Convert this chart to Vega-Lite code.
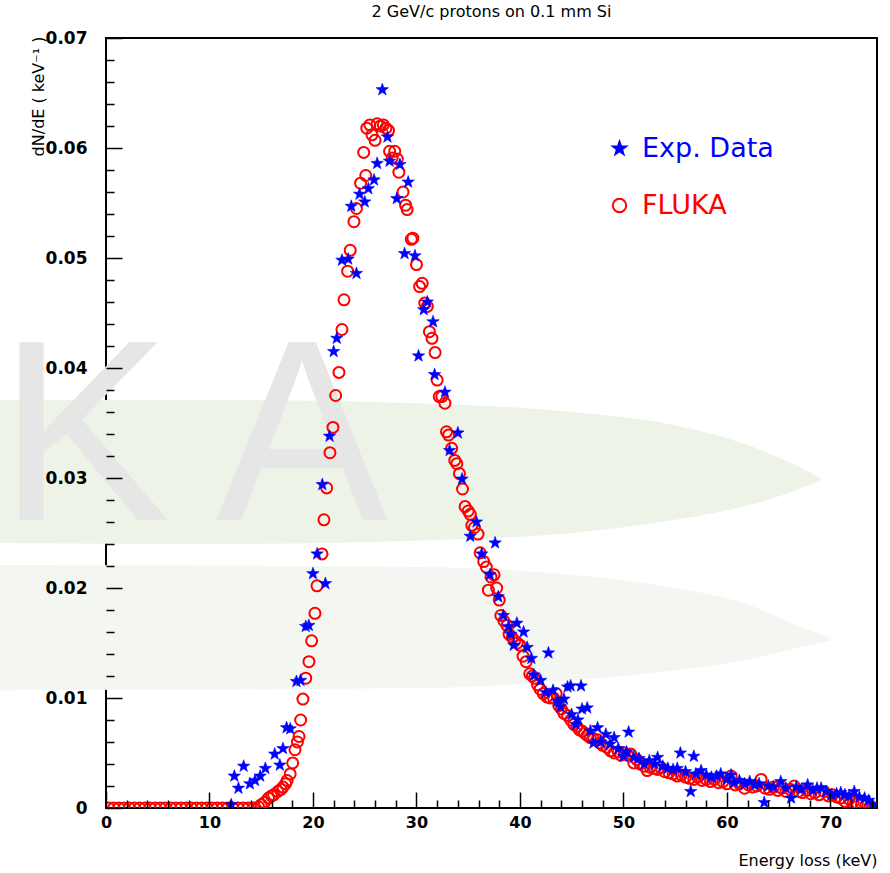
{
  "$schema": "https://vega.github.io/schema/vega-lite/v6.json",
  "width": 771,
  "height": 770,
  "autosize": "none",
  "padding": {"left": 106, "top": 38, "right": 13, "bottom": 65},
  "background": "white",
  "config": {"view": {"stroke": "#000", "strokeWidth": 2}, "font": "DejaVu Sans"},
  "title": {"text": "2 GeV/c protons on 0.1 mm Si", "fontSize": 16, "fontWeight": "normal", "font": "DejaVu Sans", "color": "#000", "anchor": "middle", "offset": 9},
  "resolve": {"axis": {"x": "independent", "y": "independent"}},
  "datasets": {
    "band1": [
      {"x": -10.3, "top": 0.0371, "bot": 0.0241},
      {"x": 10, "top": 0.0371, "bot": 0.024},
      {"x": 30, "top": 0.0368, "bot": 0.0243},
      {"x": 45, "top": 0.036, "bot": 0.025},
      {"x": 55, "top": 0.0348, "bot": 0.0262},
      {"x": 62, "top": 0.033, "bot": 0.0275},
      {"x": 67, "top": 0.031, "bot": 0.029},
      {"x": 69, "top": 0.03, "bot": 0.0298}
    ],
    "band2": [
      {"x": -10.3, "top": 0.0221, "bot": 0.0107},
      {"x": 30, "top": 0.0219, "bot": 0.0109},
      {"x": 45, "top": 0.0212, "bot": 0.0116},
      {"x": 55, "top": 0.02, "bot": 0.0125},
      {"x": 62, "top": 0.0185, "bot": 0.0135},
      {"x": 67, "top": 0.0165, "bot": 0.0146},
      {"x": 70, "top": 0.0155, "bot": 0.0152}
    ],
    "wm": [
      {"x": -10.4, "y": 0.0262, "t": "K"},
      {"x": 10.6, "y": 0.0262, "t": "A"}
    ],
    "fluka": [
      {"e": 0.25, "v": 0, "s": "FLUKA"}, {"e": 0.75, "v": 0, "s": "FLUKA"}, {"e": 1.25, "v": 0, "s": "FLUKA"}, {"e": 1.75, "v": 0, "s": "FLUKA"},
      {"e": 2.25, "v": 0, "s": "FLUKA"}, {"e": 2.75, "v": 0, "s": "FLUKA"}, {"e": 3.25, "v": 0, "s": "FLUKA"}, {"e": 3.75, "v": 0, "s": "FLUKA"},
      {"e": 4.25, "v": 0, "s": "FLUKA"}, {"e": 4.75, "v": 0, "s": "FLUKA"}, {"e": 5.25, "v": 0, "s": "FLUKA"}, {"e": 5.75, "v": 0, "s": "FLUKA"},
      {"e": 6.25, "v": 0, "s": "FLUKA"}, {"e": 6.75, "v": 0, "s": "FLUKA"}, {"e": 7.25, "v": 0, "s": "FLUKA"}, {"e": 7.75, "v": 0, "s": "FLUKA"},
      {"e": 8.25, "v": 0, "s": "FLUKA"}, {"e": 8.75, "v": 0, "s": "FLUKA"}, {"e": 9.25, "v": 0, "s": "FLUKA"}, {"e": 9.75, "v": 0, "s": "FLUKA"},
      {"e": 10.25, "v": 0, "s": "FLUKA"}, {"e": 10.75, "v": 0, "s": "FLUKA"}, {"e": 11.25, "v": 0, "s": "FLUKA"}, {"e": 11.75, "v": 0, "s": "FLUKA"},
      {"e": 12.25, "v": 0, "s": "FLUKA"}, {"e": 12.75, "v": 0, "s": "FLUKA"}, {"e": 13.25, "v": 0, "s": "FLUKA"}, {"e": 13.75, "v": 0, "s": "FLUKA"},
      {"e": 14.25, "v": 0, "s": "FLUKA"}, {"e": 14.75, "v": 0.0001, "s": "FLUKA"},
      {"e": 15.0, "v": 0.0003, "s": "FLUKA"}, {"e": 15.3, "v": 0.0005, "s": "FLUKA"}, {"e": 15.7, "v": 0.0009, "s": "FLUKA"}, {"e": 16.0, "v": 0.0011, "s": "FLUKA"},
      {"e": 16.2, "v": 0.0012, "s": "FLUKA"}, {"e": 16.6, "v": 0.0015, "s": "FLUKA"}, {"e": 16.9, "v": 0.0017, "s": "FLUKA"}, {"e": 17.1, "v": 0.0019, "s": "FLUKA"},
      {"e": 17.35, "v": 0.0022, "s": "FLUKA"}, {"e": 17.5, "v": 0.0025, "s": "FLUKA"}, {"e": 17.8, "v": 0.0031, "s": "FLUKA"}, {"e": 18.04, "v": 0.0041, "s": "FLUKA"},
      {"e": 18.26, "v": 0.0053, "s": "FLUKA"}, {"e": 18.5, "v": 0.006, "s": "FLUKA"}, {"e": 18.65, "v": 0.0065, "s": "FLUKA"}, {"e": 18.81, "v": 0.008, "s": "FLUKA"},
      {"e": 19.03, "v": 0.0099, "s": "FLUKA"}, {"e": 19.3, "v": 0.0118, "s": "FLUKA"}, {"e": 19.61, "v": 0.0133, "s": "FLUKA"}, {"e": 19.87, "v": 0.0152, "s": "FLUKA"},
      {"e": 20.19, "v": 0.0177, "s": "FLUKA"}, {"e": 20.39, "v": 0.0202, "s": "FLUKA"}, {"e": 20.87, "v": 0.0231, "s": "FLUKA"}, {"e": 21.06, "v": 0.0262, "s": "FLUKA"},
      {"e": 21.32, "v": 0.0291, "s": "FLUKA"}, {"e": 21.64, "v": 0.0323, "s": "FLUKA"}, {"e": 21.93, "v": 0.0346, "s": "FLUKA"}, {"e": 22.19, "v": 0.0375, "s": "FLUKA"},
      {"e": 22.51, "v": 0.0396, "s": "FLUKA"}, {"e": 22.8, "v": 0.0435, "s": "FLUKA"}, {"e": 23.0, "v": 0.0462, "s": "FLUKA"}, {"e": 23.35, "v": 0.0488, "s": "FLUKA"},
      {"e": 23.6, "v": 0.0507, "s": "FLUKA"}, {"e": 23.96, "v": 0.0533, "s": "FLUKA"}, {"e": 24.2, "v": 0.0545, "s": "FLUKA"}, {"e": 24.6, "v": 0.0568, "s": "FLUKA"},
      {"e": 24.9, "v": 0.0596, "s": "FLUKA"}, {"e": 25.1, "v": 0.0575, "s": "FLUKA"}, {"e": 25.2, "v": 0.0618, "s": "FLUKA"}, {"e": 25.5, "v": 0.0621, "s": "FLUKA"},
      {"e": 25.7, "v": 0.0612, "s": "FLUKA"}, {"e": 26.0, "v": 0.0607, "s": "FLUKA"}, {"e": 26.2, "v": 0.0622, "s": "FLUKA"}, {"e": 26.5, "v": 0.062, "s": "FLUKA"},
      {"e": 26.8, "v": 0.0621, "s": "FLUKA"}, {"e": 27.05, "v": 0.0618, "s": "FLUKA"}, {"e": 27.3, "v": 0.0616, "s": "FLUKA"}, {"e": 27.4, "v": 0.0597, "s": "FLUKA"},
      {"e": 27.65, "v": 0.0591, "s": "FLUKA"}, {"e": 27.9, "v": 0.0597, "s": "FLUKA"}, {"e": 28.15, "v": 0.059, "s": "FLUKA"}, {"e": 28.3, "v": 0.0578, "s": "FLUKA"},
      {"e": 28.7, "v": 0.056, "s": "FLUKA"}, {"e": 28.95, "v": 0.0548, "s": "FLUKA"}, {"e": 29.1, "v": 0.0544, "s": "FLUKA"}, {"e": 29.5, "v": 0.0517, "s": "FLUKA"},
      {"e": 29.65, "v": 0.0518, "s": "FLUKA"}, {"e": 30.0, "v": 0.0494, "s": "FLUKA"}, {"e": 30.3, "v": 0.0474, "s": "FLUKA"}, {"e": 30.55, "v": 0.0477, "s": "FLUKA"},
      {"e": 30.8, "v": 0.0459, "s": "FLUKA"}, {"e": 31.05, "v": 0.0456, "s": "FLUKA"}, {"e": 31.25, "v": 0.0433, "s": "FLUKA"}, {"e": 31.5, "v": 0.0427, "s": "FLUKA"},
      {"e": 31.8, "v": 0.0414, "s": "FLUKA"}, {"e": 32.0, "v": 0.0389, "s": "FLUKA"}, {"e": 32.2, "v": 0.0374, "s": "FLUKA"}, {"e": 32.45, "v": 0.0374, "s": "FLUKA"},
      {"e": 32.75, "v": 0.0368, "s": "FLUKA"}, {"e": 32.9, "v": 0.0342, "s": "FLUKA"}, {"e": 33.1, "v": 0.0339, "s": "FLUKA"}, {"e": 33.4, "v": 0.0327, "s": "FLUKA"},
      {"e": 33.7, "v": 0.0316, "s": "FLUKA"}, {"e": 33.9, "v": 0.0313, "s": "FLUKA"}, {"e": 34.15, "v": 0.0304, "s": "FLUKA"}, {"e": 34.45, "v": 0.029, "s": "FLUKA"},
      {"e": 34.7, "v": 0.0274, "s": "FLUKA"}, {"e": 35.0, "v": 0.027, "s": "FLUKA"}, {"e": 35.2, "v": 0.0267, "s": "FLUKA"}, {"e": 35.35, "v": 0.0257, "s": "FLUKA"},
      {"e": 35.6, "v": 0.0255, "s": "FLUKA"}, {"e": 35.95, "v": 0.0249, "s": "FLUKA"}, {"e": 36.15, "v": 0.0232, "s": "FLUKA"}, {"e": 36.5, "v": 0.0224, "s": "FLUKA"},
      {"e": 36.75, "v": 0.0219, "s": "FLUKA"}, {"e": 36.95, "v": 0.0198, "s": "FLUKA"}, {"e": 37.2, "v": 0.021, "s": "FLUKA"}, {"e": 37.5, "v": 0.0212, "s": "FLUKA"},
      {"e": 37.75, "v": 0.02, "s": "FLUKA"}, {"e": 38.0, "v": 0.0189, "s": "FLUKA"}, {"e": 38.15, "v": 0.0175, "s": "FLUKA"}, {"e": 38.45, "v": 0.017, "s": "FLUKA"},
      {"e": 38.75, "v": 0.0166, "s": "FLUKA"}, {"e": 38.95, "v": 0.0158, "s": "FLUKA"}, {"e": 39.25, "v": 0.0155, "s": "FLUKA"}, {"e": 39.5, "v": 0.0152, "s": "FLUKA"},
      {"e": 39.75, "v": 0.015, "s": "FLUKA"}, {"e": 40.0, "v": 0.0148, "s": "FLUKA"}, {"e": 40.3, "v": 0.0138, "s": "FLUKA"}, {"e": 40.6, "v": 0.0133, "s": "FLUKA"},
      {"e": 40.95, "v": 0.0122, "s": "FLUKA"}, {"e": 41.2, "v": 0.012, "s": "FLUKA"}, {"e": 41.4, "v": 0.0118, "s": "FLUKA"}, {"e": 41.7, "v": 0.0112, "s": "FLUKA"},
      {"e": 41.95, "v": 0.0108, "s": "FLUKA"}, {"e": 42.25, "v": 0.0104, "s": "FLUKA"}, {"e": 42.6, "v": 0.0101, "s": "FLUKA"}, {"e": 42.9, "v": 0.01, "s": "FLUKA"},
      {"e": 43.25, "v": 0.01, "s": "FLUKA"}, {"e": 43.5, "v": 0.0104, "s": "FLUKA"}, {"e": 43.75, "v": 0.0093, "s": "FLUKA"}, {"e": 44.0, "v": 0.009, "s": "FLUKA"},
      {"e": 44.25, "v": 0.0086, "s": "FLUKA"}, {"e": 44.6, "v": 0.0084, "s": "FLUKA"}, {"e": 44.9, "v": 0.008, "s": "FLUKA"}, {"e": 45.2, "v": 0.0076, "s": "FLUKA"},
      {"e": 45.5, "v": 0.0074, "s": "FLUKA"}, {"e": 45.75, "v": 0.0071, "s": "FLUKA"}, {"e": 46.0, "v": 0.007, "s": "FLUKA"}, {"e": 46.25, "v": 0.0068, "s": "FLUKA"},
      {"e": 46.5, "v": 0.0066, "s": "FLUKA"}, {"e": 46.8, "v": 0.0064, "s": "FLUKA"}, {"e": 47.1, "v": 0.0063, "s": "FLUKA"}, {"e": 47.5, "v": 0.0062, "s": "FLUKA"},
      {"e": 47.75, "v": 0.0059, "s": "FLUKA"}, {"e": 48.0, "v": 0.0057, "s": "FLUKA"}, {"e": 48.4, "v": 0.0055, "s": "FLUKA"}, {"e": 48.75, "v": 0.0052, "s": "FLUKA"},
      {"e": 49.1, "v": 0.005, "s": "FLUKA"}, {"e": 49.5, "v": 0.0051, "s": "FLUKA"}, {"e": 49.75, "v": 0.0048, "s": "FLUKA"}, {"e": 50.1, "v": 0.005, "s": "FLUKA"},
      {"e": 50.4, "v": 0.0048, "s": "FLUKA"}, {"e": 50.7, "v": 0.0049, "s": "FLUKA"}, {"e": 51.0, "v": 0.0041, "s": "FLUKA"}, {"e": 51.3, "v": 0.0044, "s": "FLUKA"},
      {"e": 51.6, "v": 0.004, "s": "FLUKA"}, {"e": 52.0, "v": 0.0038, "s": "FLUKA"}, {"e": 52.3, "v": 0.0034, "s": "FLUKA"}, {"e": 52.6, "v": 0.0037, "s": "FLUKA"},
      {"e": 53.0, "v": 0.0036, "s": "FLUKA"}, {"e": 53.3, "v": 0.0035, "s": "FLUKA"}, {"e": 53.6, "v": 0.0037, "s": "FLUKA"}, {"e": 54.0, "v": 0.0033, "s": "FLUKA"},
      {"e": 54.4, "v": 0.0032, "s": "FLUKA"}, {"e": 54.8, "v": 0.0031, "s": "FLUKA"}, {"e": 55.2, "v": 0.0029, "s": "FLUKA"}, {"e": 55.6, "v": 0.003, "s": "FLUKA"},
      {"e": 56.0, "v": 0.0028, "s": "FLUKA"}, {"e": 56.4, "v": 0.0027, "s": "FLUKA"}, {"e": 56.8, "v": 0.0026, "s": "FLUKA"}, {"e": 57.2, "v": 0.0028, "s": "FLUKA"},
      {"e": 57.6, "v": 0.0025, "s": "FLUKA"}, {"e": 58.0, "v": 0.0026, "s": "FLUKA"}, {"e": 58.4, "v": 0.0024, "s": "FLUKA"}, {"e": 58.8, "v": 0.0026, "s": "FLUKA"},
      {"e": 59.2, "v": 0.0023, "s": "FLUKA"}, {"e": 59.6, "v": 0.0024, "s": "FLUKA"}, {"e": 60.0, "v": 0.0022, "s": "FLUKA"}, {"e": 60.4, "v": 0.0029, "s": "FLUKA"},
      {"e": 60.8, "v": 0.0021, "s": "FLUKA"}, {"e": 61.2, "v": 0.0022, "s": "FLUKA"}, {"e": 61.7, "v": 0.0018, "s": "FLUKA"}, {"e": 62.1, "v": 0.0021, "s": "FLUKA"},
      {"e": 62.5, "v": 0.0019, "s": "FLUKA"}, {"e": 62.9, "v": 0.002, "s": "FLUKA"}, {"e": 63.3, "v": 0.0026, "s": "FLUKA"}, {"e": 63.7, "v": 0.0018, "s": "FLUKA"},
      {"e": 64.1, "v": 0.0017, "s": "FLUKA"}, {"e": 64.5, "v": 0.0019, "s": "FLUKA"}, {"e": 64.9, "v": 0.0016, "s": "FLUKA"}, {"e": 65.3, "v": 0.0018, "s": "FLUKA"},
      {"e": 65.7, "v": 0.0015, "s": "FLUKA"}, {"e": 66.1, "v": 0.0017, "s": "FLUKA"}, {"e": 66.5, "v": 0.002, "s": "FLUKA"}, {"e": 66.9, "v": 0.0015, "s": "FLUKA"},
      {"e": 67.3, "v": 0.0014, "s": "FLUKA"}, {"e": 67.7, "v": 0.0016, "s": "FLUKA"}, {"e": 68.1, "v": 0.0013, "s": "FLUKA"}, {"e": 68.5, "v": 0.0014, "s": "FLUKA"},
      {"e": 68.9, "v": 0.0012, "s": "FLUKA"}, {"e": 69.4, "v": 0.0015, "s": "FLUKA"}, {"e": 69.8, "v": 0.0011, "s": "FLUKA"}, {"e": 70.2, "v": 0.0012, "s": "FLUKA"},
      {"e": 70.6, "v": 0.001, "s": "FLUKA"}, {"e": 71.0, "v": 0.0009, "s": "FLUKA"}, {"e": 71.4, "v": 0.0006, "s": "FLUKA"}, {"e": 71.8, "v": 0.0008, "s": "FLUKA"},
      {"e": 72.2, "v": 0.0005, "s": "FLUKA"}, {"e": 72.6, "v": 0.0004, "s": "FLUKA"}, {"e": 73.0, "v": 0.0003, "s": "FLUKA"}, {"e": 73.4, "v": 0.0002, "s": "FLUKA"},
      {"e": 73.8, "v": 0.0001, "s": "FLUKA"}, {"e": 74.2, "v": 0, "s": "FLUKA"}
    ],
    "exp": [
      {"e": 12.1, "v": 0.0003, "s": "Exp. Data"}, {"e": 12.4, "v": 0.0029, "s": "Exp. Data"}, {"e": 12.8, "v": 0.0018, "s": "Exp. Data"}, {"e": 13.3, "v": 0.0038, "s": "Exp. Data"},
      {"e": 13.9, "v": 0.0022, "s": "Exp. Data"}, {"e": 14.4, "v": 0.0025, "s": "Exp. Data"}, {"e": 14.9, "v": 0.0029, "s": "Exp. Data"}, {"e": 15.4, "v": 0.0036, "s": "Exp. Data"},
      {"e": 16.3, "v": 0.0049, "s": "Exp. Data"}, {"e": 16.8, "v": 0.0039, "s": "Exp. Data"}, {"e": 17.1, "v": 0.0054, "s": "Exp. Data"}, {"e": 17.45, "v": 0.0073, "s": "Exp. Data"},
      {"e": 17.8, "v": 0.0072, "s": "Exp. Data"}, {"e": 18.4, "v": 0.0115, "s": "Exp. Data"}, {"e": 18.8, "v": 0.0116, "s": "Exp. Data"}, {"e": 19.3, "v": 0.0165, "s": "Exp. Data"},
      {"e": 19.6, "v": 0.0166, "s": "Exp. Data"}, {"e": 20.0, "v": 0.0213, "s": "Exp. Data"}, {"e": 20.4, "v": 0.0231, "s": "Exp. Data"}, {"e": 21.2, "v": 0.0204, "s": "Exp. Data"},
      {"e": 20.9, "v": 0.0294, "s": "Exp. Data"}, {"e": 21.6, "v": 0.0338, "s": "Exp. Data"}, {"e": 22.0, "v": 0.0415, "s": "Exp. Data"}, {"e": 22.3, "v": 0.0427, "s": "Exp. Data"},
      {"e": 22.8, "v": 0.0498, "s": "Exp. Data"}, {"e": 23.4, "v": 0.0499, "s": "Exp. Data"}, {"e": 23.7, "v": 0.0547, "s": "Exp. Data"}, {"e": 24.2, "v": 0.0486, "s": "Exp. Data"},
      {"e": 24.5, "v": 0.0558, "s": "Exp. Data"}, {"e": 25.0, "v": 0.0551, "s": "Exp. Data"}, {"e": 25.35, "v": 0.0563, "s": "Exp. Data"}, {"e": 25.9, "v": 0.0571, "s": "Exp. Data"},
      {"e": 26.2, "v": 0.0586, "s": "Exp. Data"}, {"e": 26.7, "v": 0.0653, "s": "Exp. Data"}, {"e": 27.2, "v": 0.061, "s": "Exp. Data"}, {"e": 27.4, "v": 0.0588, "s": "Exp. Data"},
      {"e": 28.1, "v": 0.0554, "s": "Exp. Data"}, {"e": 28.4, "v": 0.0585, "s": "Exp. Data"}, {"e": 28.85, "v": 0.0504, "s": "Exp. Data"}, {"e": 29.2, "v": 0.0569, "s": "Exp. Data"},
      {"e": 29.85, "v": 0.0502, "s": "Exp. Data"}, {"e": 30.2, "v": 0.0411, "s": "Exp. Data"}, {"e": 30.7, "v": 0.0453, "s": "Exp. Data"}, {"e": 31.05, "v": 0.046, "s": "Exp. Data"},
      {"e": 31.6, "v": 0.0442, "s": "Exp. Data"}, {"e": 31.75, "v": 0.0394, "s": "Exp. Data"}, {"e": 32.75, "v": 0.0378, "s": "Exp. Data"}, {"e": 33.2, "v": 0.0325, "s": "Exp. Data"},
      {"e": 34.0, "v": 0.0341, "s": "Exp. Data"}, {"e": 34.4, "v": 0.0299, "s": "Exp. Data"}, {"e": 35.2, "v": 0.0247, "s": "Exp. Data"}, {"e": 35.8, "v": 0.026, "s": "Exp. Data"},
      {"e": 36.3, "v": 0.0231, "s": "Exp. Data"}, {"e": 37.1, "v": 0.0212, "s": "Exp. Data"}, {"e": 37.6, "v": 0.0241, "s": "Exp. Data"}, {"e": 37.9, "v": 0.0192, "s": "Exp. Data"},
      {"e": 38.4, "v": 0.0175, "s": "Exp. Data"}, {"e": 38.9, "v": 0.0165, "s": "Exp. Data"}, {"e": 39.1, "v": 0.0158, "s": "Exp. Data"}, {"e": 39.4, "v": 0.0148, "s": "Exp. Data"},
      {"e": 39.7, "v": 0.0168, "s": "Exp. Data"}, {"e": 40.35, "v": 0.016, "s": "Exp. Data"}, {"e": 40.7, "v": 0.0146, "s": "Exp. Data"}, {"e": 41.1, "v": 0.0136, "s": "Exp. Data"},
      {"e": 41.35, "v": 0.0121, "s": "Exp. Data"}, {"e": 42.0, "v": 0.0116, "s": "Exp. Data"}, {"e": 42.5, "v": 0.0105, "s": "Exp. Data"}, {"e": 42.75, "v": 0.0141, "s": "Exp. Data"},
      {"e": 43.2, "v": 0.0107, "s": "Exp. Data"}, {"e": 43.6, "v": 0.0097, "s": "Exp. Data"}, {"e": 43.9, "v": 0.0092, "s": "Exp. Data"}, {"e": 44.25, "v": 0.0099, "s": "Exp. Data"},
      {"e": 44.6, "v": 0.011, "s": "Exp. Data"}, {"e": 44.9, "v": 0.0111, "s": "Exp. Data"}, {"e": 45.0, "v": 0.0085, "s": "Exp. Data"}, {"e": 45.4, "v": 0.0076, "s": "Exp. Data"},
      {"e": 45.6, "v": 0.008, "s": "Exp. Data"}, {"e": 45.9, "v": 0.0111, "s": "Exp. Data"}, {"e": 46.0, "v": 0.009, "s": "Exp. Data"}, {"e": 46.5, "v": 0.0091, "s": "Exp. Data"},
      {"e": 46.8, "v": 0.007, "s": "Exp. Data"}, {"e": 47.1, "v": 0.0059, "s": "Exp. Data"}, {"e": 47.5, "v": 0.0073, "s": "Exp. Data"}, {"e": 47.8, "v": 0.006, "s": "Exp. Data"},
      {"e": 48.3, "v": 0.0067, "s": "Exp. Data"}, {"e": 48.7, "v": 0.0058, "s": "Exp. Data"}, {"e": 49.1, "v": 0.0064, "s": "Exp. Data"}, {"e": 49.5, "v": 0.0054, "s": "Exp. Data"},
      {"e": 50.0, "v": 0.0047, "s": "Exp. Data"}, {"e": 50.3, "v": 0.0051, "s": "Exp. Data"}, {"e": 50.5, "v": 0.0069, "s": "Exp. Data"}, {"e": 51.0, "v": 0.0046, "s": "Exp. Data"},
      {"e": 51.5, "v": 0.0045, "s": "Exp. Data"}, {"e": 52.0, "v": 0.004, "s": "Exp. Data"}, {"e": 52.5, "v": 0.0043, "s": "Exp. Data"}, {"e": 53.0, "v": 0.004, "s": "Exp. Data"},
      {"e": 53.3, "v": 0.0046, "s": "Exp. Data"}, {"e": 53.8, "v": 0.0038, "s": "Exp. Data"}, {"e": 54.3, "v": 0.0036, "s": "Exp. Data"}, {"e": 54.8, "v": 0.0035, "s": "Exp. Data"},
      {"e": 55.2, "v": 0.0036, "s": "Exp. Data"}, {"e": 55.5, "v": 0.005, "s": "Exp. Data"}, {"e": 56.0, "v": 0.0033, "s": "Exp. Data"}, {"e": 56.5, "v": 0.0015, "s": "Exp. Data"},
      {"e": 56.8, "v": 0.0047, "s": "Exp. Data"}, {"e": 57.0, "v": 0.0031, "s": "Exp. Data"}, {"e": 57.5, "v": 0.0034, "s": "Exp. Data"}, {"e": 58.0, "v": 0.003, "s": "Exp. Data"},
      {"e": 58.5, "v": 0.0028, "s": "Exp. Data"}, {"e": 59.0, "v": 0.0029, "s": "Exp. Data"}, {"e": 59.4, "v": 0.0031, "s": "Exp. Data"}, {"e": 60.0, "v": 0.0026, "s": "Exp. Data"},
      {"e": 60.4, "v": 0.003, "s": "Exp. Data"}, {"e": 60.7, "v": 0.0023, "s": "Exp. Data"}, {"e": 61.2, "v": 0.0025, "s": "Exp. Data"}, {"e": 61.7, "v": 0.0022, "s": "Exp. Data"},
      {"e": 62.2, "v": 0.0024, "s": "Exp. Data"}, {"e": 62.7, "v": 0.0021, "s": "Exp. Data"}, {"e": 63.1, "v": 0.0022, "s": "Exp. Data"}, {"e": 63.6, "v": 0.0005, "s": "Exp. Data"},
      {"e": 64.0, "v": 0.002, "s": "Exp. Data"}, {"e": 64.5, "v": 0.0019, "s": "Exp. Data"}, {"e": 65.2, "v": 0.0024, "s": "Exp. Data"}, {"e": 65.7, "v": 0.0018, "s": "Exp. Data"},
      {"e": 66.2, "v": 0.0009, "s": "Exp. Data"}, {"e": 66.7, "v": 0.0019, "s": "Exp. Data"}, {"e": 67.2, "v": 0.0017, "s": "Exp. Data"}, {"e": 67.8, "v": 0.0021, "s": "Exp. Data"},
      {"e": 68.3, "v": 0.0016, "s": "Exp. Data"}, {"e": 68.7, "v": 0.0018, "s": "Exp. Data"}, {"e": 69.1, "v": 0.0018, "s": "Exp. Data"}, {"e": 69.6, "v": 0.0015, "s": "Exp. Data"},
      {"e": 70.1, "v": 0.0012, "s": "Exp. Data"}, {"e": 70.6, "v": 0.0013, "s": "Exp. Data"}, {"e": 71.0, "v": 0.0014, "s": "Exp. Data"}, {"e": 71.4, "v": 0.0012, "s": "Exp. Data"},
      {"e": 71.8, "v": 0.0011, "s": "Exp. Data"}, {"e": 72.3, "v": 0.0015, "s": "Exp. Data"}, {"e": 72.8, "v": 0.001, "s": "Exp. Data"}, {"e": 73.3, "v": 0.0009, "s": "Exp. Data"},
      {"e": 73.7, "v": 0.0007, "s": "Exp. Data"}, {"e": 74.1, "v": 0.0003, "s": "Exp. Data"}
    ]
  },
  "layer": [
    {
      "data": {"name": "band1"},
      "mark": {"type": "area", "clip": false, "color": "#eef3e8", "interpolate": "monotone"},
      "encoding": {
        "x": {
          "field": "x", "type": "quantitative",
          "scale": {"domain": [0, 74.5], "nice": false, "zero": false},
          "axis": {
            "orient": "bottom", "zindex": 1,
            "values": [0, 10, 20, 30, 40, 50, 60, 70],
            "tickSize": -16, "tickColor": "#000", "tickWidth": 1.5, "domain": false, "grid": false,
            "labelFont": "DejaVu Sans", "labelFontSize": 16, "labelFontWeight": "bold", "labelColor": "#000", "labelPadding": 22,
            "labelFlush": false, "labelOverlap": false,
            "title": "Energy loss (keV)", "titleFont": "DejaVu Sans", "titleFontSize": 16, "titleFontWeight": "normal", "titleColor": "#000",
            "titleX": 771, "titleY": 60, "titleAlign": "right", "titleBaseline": "bottom"
          }
        },
        "y": {
          "field": "top", "type": "quantitative",
          "scale": {"domain": [0, 0.07], "nice": false},
          "axis": {
            "orient": "left", "zindex": 1,
            "values": [0, 0.01, 0.02, 0.03, 0.04, 0.05, 0.06, 0.07],
            "format": ".2~f",
            "tickSize": -16, "tickColor": "#000", "tickWidth": 1.5, "domain": false, "grid": false,
            "labelFont": "DejaVu Sans", "labelFontSize": 17, "labelFontWeight": "bold", "labelColor": "#000", "labelPadding": 35,
            "labelFlush": false, "labelOverlap": false,
            "title": "dN/dE ( keV⁻¹ )", "titleFont": "DejaVu Sans", "titleFontSize": 16, "titleFontWeight": "normal", "titleColor": "#000",
            "titleX": -68, "titleY": -2, "titleAlign": "right", "titleBaseline": "middle", "titleAngle": 270
          }
        },
        "y2": {"field": "bot"}
      }
    },
    {
      "data": {"name": "band2"},
      "mark": {"type": "area", "clip": false, "color": "#f4f6f1", "interpolate": "monotone"},
      "encoding": {
        "x": {
          "field": "x", "type": "quantitative",
          "scale": {"domain": [0, 74.5], "nice": false, "zero": false},
          "axis": {
            "orient": "bottom", "zindex": 1,
            "values": [2, 4, 6, 8, 12, 14, 16, 18, 22, 24, 26, 28, 32, 34, 36, 38, 42, 44, 46, 48, 52, 54, 56, 58, 62, 64, 66, 68, 72, 74],
            "tickSize": -8, "tickColor": "#000", "tickWidth": 1.5, "domain": false, "grid": false,
            "labels": false, "title": null
          }
        },
        "y": {
          "field": "top", "type": "quantitative",
          "scale": {"domain": [0, 0.07], "nice": false},
          "axis": {
            "orient": "left", "zindex": 1,
            "values": [0.002, 0.004, 0.006, 0.008, 0.012, 0.014, 0.016, 0.018, 0.022, 0.024, 0.026, 0.028, 0.032, 0.034, 0.036, 0.038, 0.042, 0.044, 0.046, 0.048, 0.052, 0.054, 0.056, 0.058, 0.062, 0.064, 0.066, 0.068],
            "tickSize": -8, "tickColor": "#000", "tickWidth": 1.5, "domain": false, "grid": false,
            "labels": false, "title": null
          }
        },
        "y2": {"field": "bot"}
      }
    },
    {
      "data": {"name": "wm"},
      "mark": {"type": "text", "clip": false, "font": "Liberation Sans", "fontSize": 258, "color": "#e6e6e6", "align": "left", "baseline": "alphabetic"},
      "encoding": {
        "x": {"field": "x", "type": "quantitative", "axis": null, "scale": {"domain": [0, 74.5], "nice": false, "zero": false}},
        "y": {"field": "y", "type": "quantitative", "axis": null, "scale": {"domain": [0, 0.07], "nice": false}},
        "text": {"field": "t"}
      }
    },
    {
      "data": {"name": "fluka"},
      "mark": {"type": "point", "size": 121, "strokeWidth": 2, "opacity": 1, "clip": true},
      "encoding": {
        "x": {"field": "e", "type": "quantitative", "axis": null, "scale": {"domain": [0, 74.5], "nice": false, "zero": false}},
        "y": {"field": "v", "type": "quantitative", "axis": null, "scale": {"domain": [0, 0.07], "nice": false}},
        "fill": {
          "field": "s", "type": "nominal",
          "scale": {"domain": ["Exp. Data", "FLUKA"], "range": ["#0000ff", "transparent"]},
          "legend": {
            "orient": "none", "legendX": 500, "legendY": 97, "title": null, "padding": 0,
            "labelFont": "DejaVu Sans", "labelFontSize": 27, "symbolSize": 180, "symbolStrokeWidth": 2,
            "rowPadding": 29, "labelOffset": 9,
            "labelColor": {"expr": "datum.value === 'FLUKA' ? '#ff0000' : '#0000ff'"}
          }
        },
        "stroke": {
          "field": "s", "type": "nominal",
          "scale": {"domain": ["Exp. Data", "FLUKA"], "range": ["#0000ff", "#ff0000"]},
          "legend": {
            "orient": "none", "legendX": 500, "legendY": 97, "title": null, "padding": 0,
            "labelFont": "DejaVu Sans", "labelFontSize": 27, "symbolSize": 180, "symbolStrokeWidth": 2,
            "rowPadding": 29, "labelOffset": 9,
            "labelColor": {"expr": "datum.value === 'FLUKA' ? '#ff0000' : '#0000ff'"}
          }
        },
        "shape": {
          "field": "s", "type": "nominal",
          "scale": {"domain": ["Exp. Data", "FLUKA"], "range": ["M0,-1L0.235,-0.324L0.951,-0.309L0.38,0.124L0.588,0.809L0,0.4L-0.588,0.809L-0.38,0.124L-0.951,-0.309L-0.235,-0.324Z", "circle"]},
          "legend": {
            "orient": "none", "legendX": 500, "legendY": 97, "title": null, "padding": 0,
            "labelFont": "DejaVu Sans", "labelFontSize": 27, "symbolSize": 180, "symbolStrokeWidth": 2,
            "rowPadding": 29, "labelOffset": 9,
            "labelColor": {"expr": "datum.value === 'FLUKA' ? '#ff0000' : '#0000ff'"}
          }
        }
      }
    },
    {
      "data": {"name": "exp"},
      "mark": {"type": "point", "size": 170, "strokeWidth": 0.6, "opacity": 1, "clip": true},
      "encoding": {
        "x": {"field": "e", "type": "quantitative", "axis": null, "scale": {"domain": [0, 74.5], "nice": false, "zero": false}},
        "y": {"field": "v", "type": "quantitative", "axis": null, "scale": {"domain": [0, 0.07], "nice": false}},
        "fill": {"field": "s", "type": "nominal", "scale": {"domain": ["Exp. Data", "FLUKA"], "range": ["#0000ff", "transparent"]}},
        "stroke": {"field": "s", "type": "nominal", "scale": {"domain": ["Exp. Data", "FLUKA"], "range": ["#0000ff", "#ff0000"]}},
        "shape": {"field": "s", "type": "nominal", "scale": {"domain": ["Exp. Data", "FLUKA"], "range": ["M0,-1L0.235,-0.324L0.951,-0.309L0.38,0.124L0.588,0.809L0,0.4L-0.588,0.809L-0.38,0.124L-0.951,-0.309L-0.235,-0.324Z", "circle"]}}
      }
    }
  ]
}
